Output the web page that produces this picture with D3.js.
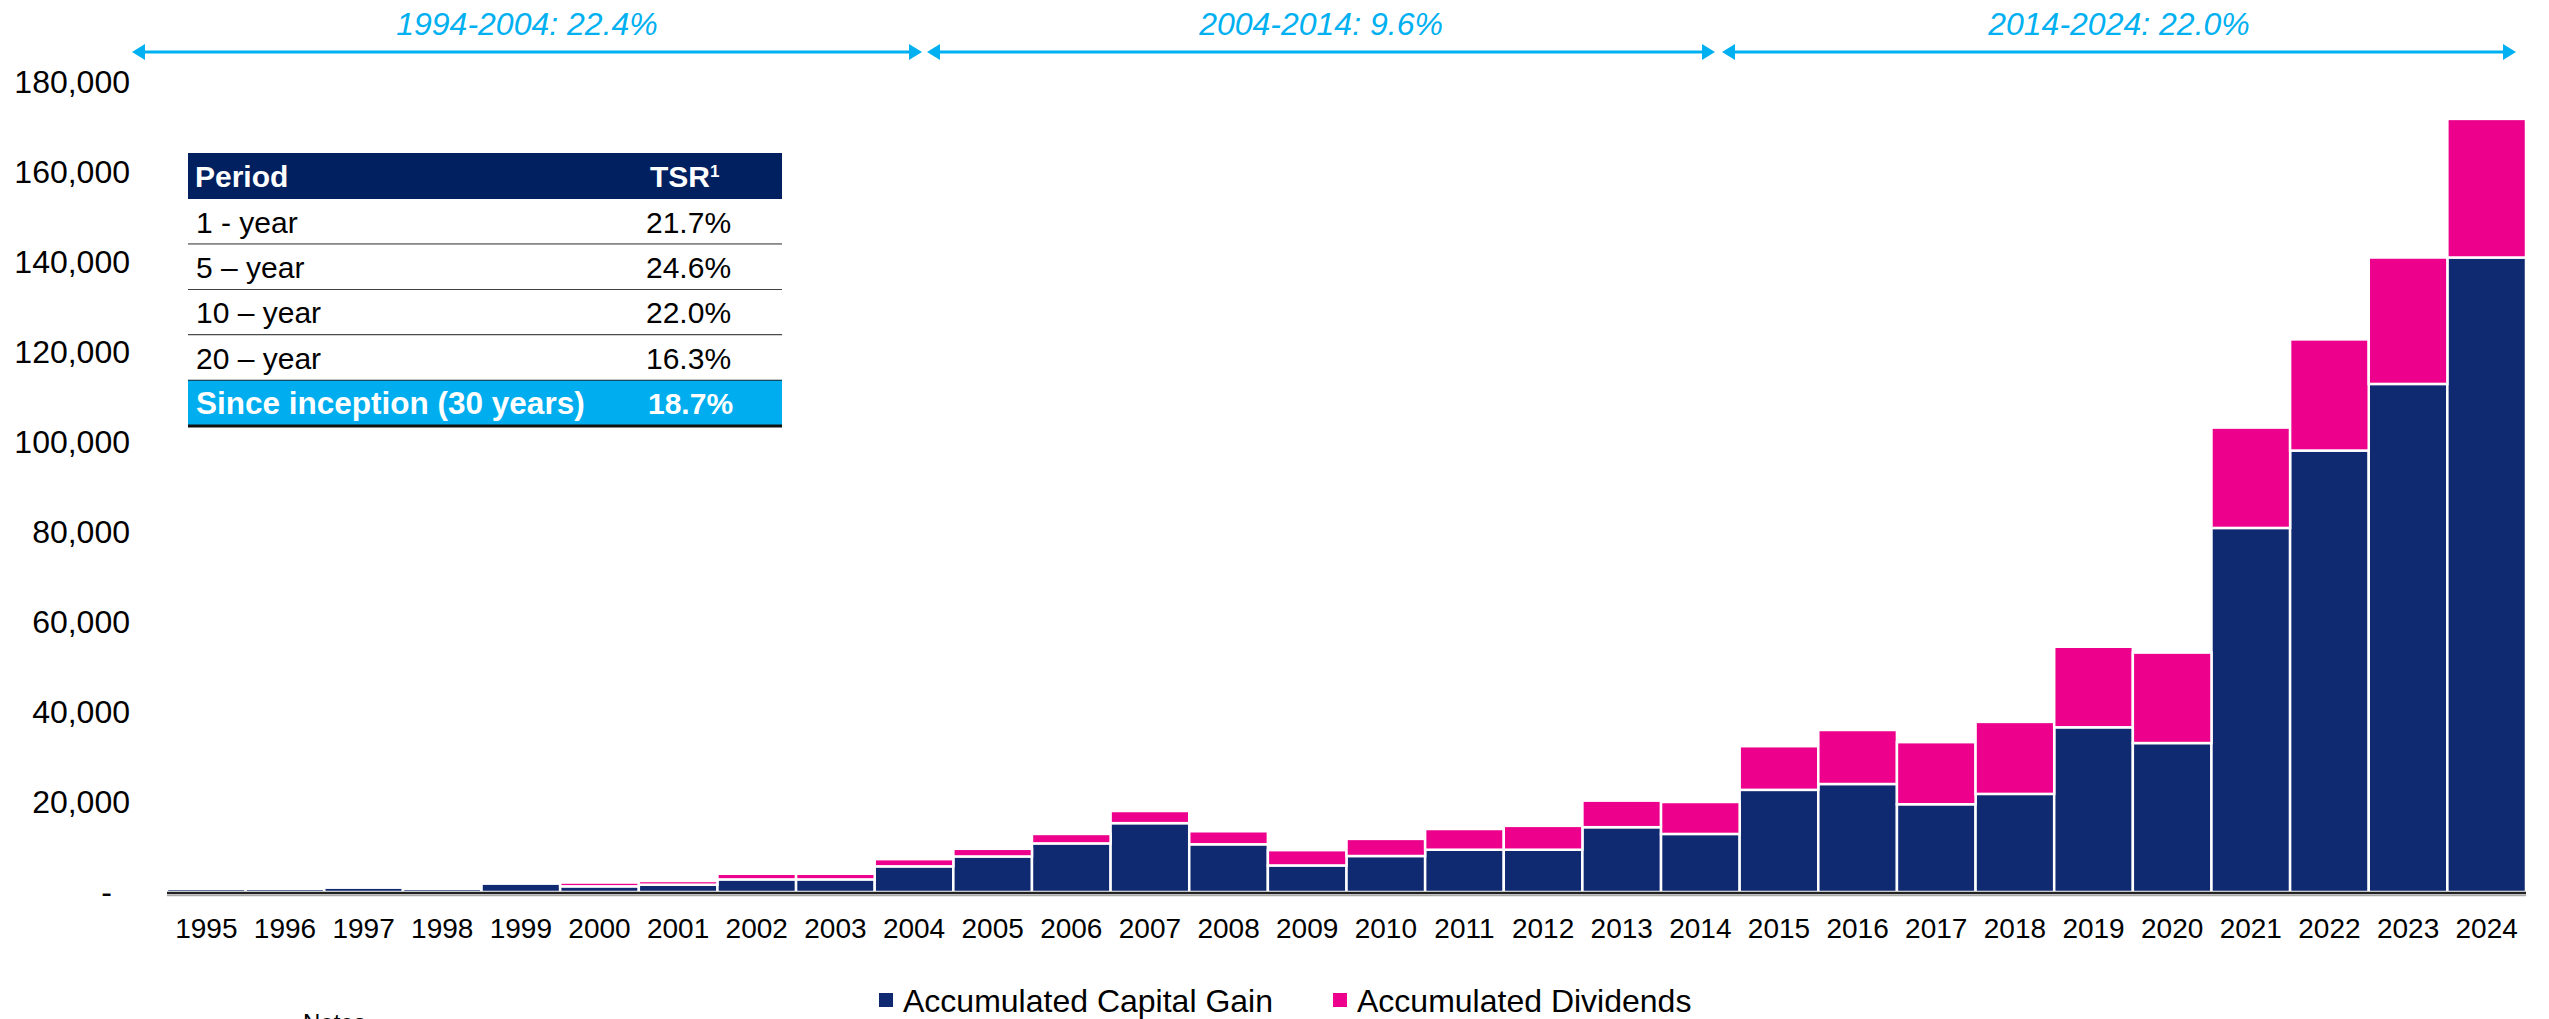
<!DOCTYPE html>
<html>
<head>
<meta charset="utf-8">
<script src="https://cdn.jsdelivr.net/npm/d3@7"></script>
<style>
  html, body { margin: 0; padding: 0; background: #fff; }
  svg { display: block; font-family: "Liberation Sans", Arial, sans-serif; }
</style>
</head>
<body>
<div id="chart"></div>
<script>
// data
var years = ["1995","1996","1997","1998","1999","2000","2001","2002","2003","2004",
             "2005","2006","2007","2008","2009","2010","2011","2012","2013","2014",
             "2015","2016","2017","2018","2019","2020","2021","2022","2023","2024"];
var capitalGain = [700, 700, 1000, 700, 1900, 1260, 1630, 2800, 2800, 5700,
                   7900, 10800, 15300, 10600, 5900, 8000, 9400, 9400, 14400, 12900,
                   22700, 24000, 19500, 21800, 36600, 33100, 80900, 98100, 112900, 141000];
var dividends = [0, 0, 50, 0, 100, 840, 820, 1250, 1250, 1600,
                 1700, 2100, 2700, 2900, 3400, 3800, 4600, 5300, 5900, 7100,
                 9700, 12000, 13800, 16000, 17900, 20100, 22300, 24700, 28100, 30800];
var seriesNames = ["Accumulated Capital Gain", "Accumulated Dividends"];
var yTicks = [0, 20000, 40000, 60000, 80000, 100000, 120000, 140000, 160000, 180000];

var periodLabels = ["1994-2004: 22.4%", "2004-2014: 9.6%", "2014-2024: 22.0%"];
var tablePeriods = ["1 - year", "5 \u2013 year", "10 \u2013 year", "20 \u2013 year", "Since inception (30 years)"];
var tableTsr = ["21.7%", "24.6%", "22.0%", "16.3%", "18.7%"];
//end: data

var W = 2549, H = 1019;
var navy = "#102A72", pink = "#EC008C", cyan = "#00B0F0", header = "#002060";

var svg = d3.select("#chart").append("svg")
  .attr("width", W).attr("height", H);

var x = d3.scaleBand().domain(years).range([167, 2526]).padding(0);
var y = d3.scaleLinear().domain([0, 180000]).range([892, 82]);

var rows = years.map(function(yr, i){
  return {year: yr, cap: capitalGain[i], div: dividends[i]};
});
var stack = d3.stack().keys(["cap", "div"]);
var layers = stack(rows);
var colors = [navy, pink];

// bars
svg.append("g").selectAll("g")
  .data(layers)
  .enter().append("g")
    .attr("fill", function(d, i){ return colors[i]; })
  .selectAll("rect")
  .data(function(d){ return d; })
  .enter().append("rect")
    .attr("x", function(d){ return x(d.data.year); })
    .attr("width", x.bandwidth())
    .attr("y", function(d){ return y(d[1]); })
    .attr("height", function(d){ return Math.max(0, y(d[0]) - y(d[1])); })
    .attr("stroke", "#fff")
    .attr("stroke-width", 2.5);

// baseline
svg.append("line")
  .attr("x1", 167).attr("x2", 2526)
  .attr("y1", 893).attr("y2", 893)
  .attr("stroke", "#222").attr("stroke-width", 2.5);
svg.append("line")
  .attr("x1", 167).attr("x2", 2526)
  .attr("y1", 895.5).attr("y2", 895.5)
  .attr("stroke", "#aaa").attr("stroke-width", 1.5);

// y axis
var yAxis = d3.axisLeft(y)
  .tickValues(yTicks)
  .tickSize(0)
  .tickPadding(0)
  .tickFormat(function(d){ return d === 0 ? "-" : d3.format(",")(d); });
var gy = svg.append("g").attr("transform", "translate(130,0)").call(yAxis);
gy.select(".domain").remove();
gy.selectAll("text")
  .attr("font-size", 32).attr("fill", "#000")
  .attr("font-family", "Liberation Sans, Arial, sans-serif")
  .attr("dx", function(d){ return d === 0 ? -18 : 0; });

// x axis
var xAxis = d3.axisBottom(x).tickSize(0).tickPadding(26);
var gx = svg.append("g").attr("transform", "translate(0,892)").call(xAxis);
gx.select(".domain").remove();
gx.selectAll("text")
  .attr("font-size", 28).attr("fill", "#000")
  .attr("font-family", "Liberation Sans, Arial, sans-serif");

// period arrows along the top
var arrowSpans = [[132, 922], [927, 1715], [1722, 2516]];
var arrowY = 52;
var arrows = svg.append("g").selectAll("g")
  .data(periodLabels)
  .enter().append("g");
arrows.append("line")
  .attr("x1", function(d, i){ return arrowSpans[i][0] + 10; })
  .attr("x2", function(d, i){ return arrowSpans[i][1] - 10; })
  .attr("y1", arrowY).attr("y2", arrowY)
  .attr("stroke", cyan).attr("stroke-width", 3);
arrows.append("path")
  .attr("fill", cyan)
  .attr("d", function(d, i){
    var a = arrowSpans[i][0], b = arrowSpans[i][1];
    return "M" + a + "," + arrowY + "L" + (a + 13) + "," + (arrowY - 8) + "L" + (a + 13) + "," + (arrowY + 8) + "Z" +
           "M" + b + "," + arrowY + "L" + (b - 13) + "," + (arrowY - 8) + "L" + (b - 13) + "," + (arrowY + 8) + "Z";
  });
arrows.append("text")
  .attr("x", function(d, i){ return (arrowSpans[i][0] + arrowSpans[i][1]) / 2; })
  .attr("y", 35)
  .attr("text-anchor", "middle")
  .attr("font-size", 32)
  .attr("font-style", "italic")
  .attr("fill", cyan)
  .text(function(d){ return d; });

// TSR table
var tX = 188, tW = 594, tY = 153, hH = 46, rH = 45.4, valX = 646;
var last = tablePeriods.length - 1;
var table = svg.append("g");
table.append("rect")
  .attr("x", tX).attr("y", tY).attr("width", tW).attr("height", hH)
  .attr("fill", header);
table.append("text")
  .attr("x", tX + 7).attr("y", tY + hH / 2 + 11)
  .attr("font-size", 30).attr("font-weight", "bold").attr("fill", "#fff")
  .text("Period");
var tsrHead = table.append("text")
  .attr("x", valX + 4).attr("y", tY + hH / 2 + 11)
  .attr("font-size", 30).attr("font-weight", "bold").attr("fill", "#fff")
  .text("TSR");
tsrHead.append("tspan").attr("font-size", 17).attr("dy", -10).text("1");

var trow = table.selectAll("g.row")
  .data(tablePeriods)
  .enter().append("g")
    .attr("class", "row")
    .attr("transform", function(d, i){ return "translate(0," + (tY + hH + i * rH) + ")"; });
trow.append("rect")
  .attr("x", tX).attr("width", tW).attr("height", rH)
  .attr("fill", function(d, i){ return i === last ? "#00AEEF" : "#fff"; });
trow.append("line")
  .attr("x1", tX).attr("x2", tX + tW)
  .attr("y1", rH).attr("y2", rH)
  .attr("stroke", "#111")
  .attr("stroke-width", function(d, i){ return i === last ? 3 : 1.8; });
trow.append("text")
  .attr("x", tX + 8).attr("y", rH / 2 + 11)
  .attr("font-size", function(d, i){ return i === last ? 31.5 : 30; })
  .attr("font-weight", function(d, i){ return i === last ? "bold" : "normal"; })
  .attr("fill", function(d, i){ return i === last ? "#fff" : "#000"; })
  .text(function(d){ return d; });
trow.append("text")
  .attr("x", function(d, i){ return i === last ? valX + 2 : valX; })
  .attr("y", rH / 2 + 11)
  .attr("font-size", 30)
  .attr("font-weight", function(d, i){ return i === last ? "bold" : "normal"; })
  .attr("fill", function(d, i){ return i === last ? "#fff" : "#000"; })
  .text(function(d, i){ return tableTsr[i]; });

// legend
var legendX = [879, 1333];
var legend = svg.append("g").selectAll("g")
  .data(seriesNames)
  .enter().append("g")
    .attr("transform", function(d, i){ return "translate(" + legendX[i] + ",993)"; });
legend.append("rect")
  .attr("x", 0).attr("y", 0).attr("width", 14).attr("height", 14)
  .attr("fill", function(d, i){ return colors[i]; });
legend.append("text")
  .attr("x", 24).attr("y", 19)
  .attr("font-size", 32).attr("fill", "#000")
  .text(function(d){ return d; });

// cut-off notes heading
svg.append("text")
  .attr("x", 303).attr("y", 1031)
  .attr("font-size", 24).attr("fill", "#000")
  .text("Notes");
</script>
</body>
</html>
